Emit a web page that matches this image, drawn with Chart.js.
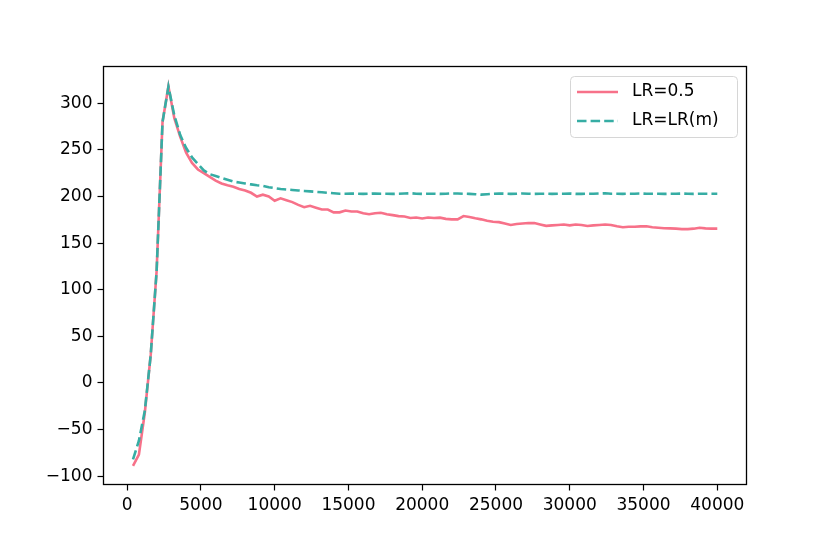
<!DOCTYPE html>
<html>
<head>
<meta charset="utf-8">
<script src="https://cdn.jsdelivr.net/npm/chart.js@4.4.0/dist/chart.umd.min.js"></script>
<style>
html, body { margin: 0; padding: 0; background: #fff; }
#wrap { width: 830px; height: 554px; }
</style>
</head>
<body>
<div id="wrap"><canvas id="lrChart" width="830" height="554"></canvas></div>
<script>
// training steps (x)
const steps = [
    400, 800, 1200, 1600, 2000, 2400, 2800, 3200, 3600, 4000,
    4400, 4800, 5200, 5600, 6000, 6400, 6800, 7200, 7600, 8000,
    8400, 8800, 9200, 9600, 10000, 10400, 10800, 11200, 11600, 12000,
    12400, 12800, 13200, 13600, 14000, 14400, 14800, 15200, 15600, 16000,
    16400, 16800, 17200, 17600, 18000, 18400, 18800, 19200, 19600, 20000,
    20400, 20800, 21200, 21600, 22000, 22400, 22800, 23200, 23600, 24000,
    24400, 24800, 25200, 25600, 26000, 26400, 26800, 27200, 27600, 28000,
    28400, 28800, 29200, 29600, 30000, 30400, 30800, 31200, 31600, 32000,
    32400, 32800, 33200, 33600, 34000, 34400, 34800, 35200, 35600, 36000,
    36400, 36800, 37200, 37600, 38000, 38400, 38800, 39200, 39600, 40000
];

// LR=0.5
const lrHalf = [
    -89, -77, -32, 30, 120, 280, 318, 284, 264, 247,
    236, 229, 225, 221, 217, 214, 212, 210.5, 208, 206.5,
    204, 200, 202, 200, 195.5, 198, 196, 194, 191, 188.5,
    190, 188, 186, 186, 183, 183, 185, 184, 184, 182,
    181, 182, 182.5, 181, 180, 179, 178.5, 177, 177.5, 176.5,
    177.5, 177, 177.3, 176, 175.5, 175.5, 179, 178, 176.6, 175.5,
    174, 173, 172.5, 171, 169.5, 170.5, 171, 171.5, 171.5, 170,
    168.5, 169, 169.5, 170, 169, 170, 169.5, 168.3, 169, 169.5,
    170, 169.5, 168, 167, 167.5, 167.5, 168, 168, 167, 166.5,
    166, 165.8, 165.5, 165, 165, 165.5, 166.5, 165.8, 165.5, 165.5
];

// LR=LR(m)
const lrM = [
    -82, -62, -30, 30, 120, 280, 318, 287, 266, 252,
    242, 235, 228, 224, 222, 220, 218, 216, 215, 214,
    213, 212, 211.5, 210, 209, 208, 207.5, 207, 206.5, 206,
    205.5, 205, 204.5, 204, 203.5, 203, 203, 203.2, 203, 202.8,
    203, 203.3, 203, 203, 202.8, 203, 203.2, 203.5, 203, 202.8,
    203, 203, 202.8, 203, 203.3, 203.3, 203, 202.8, 202.5, 202,
    202.5, 203, 203.2, 203, 202.8, 203, 203.3, 203, 202.8, 203,
    203, 202.8, 203, 203, 203.2, 202.8, 202.8, 203, 203, 203.3,
    203.5, 203, 203, 202.8, 203, 203, 203.2, 203, 203, 203,
    202.8, 203, 203, 203.2, 203, 202.8, 203, 203, 203, 203
];

const xTicks = [0, 5000, 10000, 15000, 20000, 25000, 30000, 35000, 40000];
const yTicks = [-100, -50, 0, 50, 100, 150, 200, 250, 300];

const redColor = '#f77189';
const tealColor = '#36ada4';
const tickFont = { family: 'DejaVu Sans', size: 17 };

function toPoints(xs, ys) {
    return xs.map((x, i) => ({ x: x, y: ys[i] }));
}

// frame round the plot + matplotlib-like legend box
const framePlugin = {
    id: 'frame',
    afterDraw(chart) {
        const ctx = chart.ctx;
        const a = chart.chartArea;
        ctx.save();
        ctx.strokeStyle = '#000';
        ctx.lineWidth = 1.3;
        ctx.strokeRect(a.left, a.top, a.right - a.left, a.bottom - a.top);

        // legend
        const bx = 570.5, by = 76.5, bw = 167, bh = 61;
        ctx.beginPath();
        ctx.roundRect(bx, by, bw, bh, 4);
        ctx.fillStyle = 'rgba(255,255,255,0.8)';
        ctx.fill();
        ctx.strokeStyle = '#d6d6d6';
        ctx.lineWidth = 1;
        ctx.stroke();

        ctx.lineWidth = 2.6;
        ctx.strokeStyle = redColor;
        ctx.beginPath();
        ctx.moveTo(577, 92);
        ctx.lineTo(618, 92);
        ctx.stroke();

        ctx.strokeStyle = tealColor;
        ctx.setLineDash([9.5, 4.1]);
        ctx.beginPath();
        ctx.moveTo(577, 121);
        ctx.lineTo(618, 121);
        ctx.stroke();
        ctx.setLineDash([]);

        ctx.fillStyle = '#000';
        ctx.font = '17px "DejaVu Sans"';
        ctx.textBaseline = 'middle';
        ctx.fillText('LR=0.5', 632, 92);
        ctx.fillText('LR=LR(m)', 632, 121);
        ctx.restore();
    }
};

const chart = new Chart(document.getElementById('lrChart'), {
    type: 'line',
    data: {
        datasets: [
            {
                label: 'LR=0.5',
                data: toPoints(steps, lrHalf),
                borderColor: redColor,
                borderWidth: 2.6,
                pointRadius: 0,
                tension: 0,
                fill: false,
                order: 2
            },
            {
                label: 'LR=LR(m)',
                data: toPoints(steps, lrM),
                borderColor: tealColor,
                borderWidth: 2.6,
                borderDash: [9.5, 4.1],
                pointRadius: 0,
                tension: 0,
                fill: false,
                order: 1
            }
        ]
    },
    options: {
        responsive: false,
        animation: false,
        devicePixelRatio: 1,
        layout: { padding: { left: 0, top: 66.5, right: 83.5, bottom: 0 } },
        plugins: {
            legend: { display: false },
            tooltip: { enabled: false }
        },
        scales: {
            x: {
                type: 'linear',
                min: -1600,
                max: 41980,
                afterBuildTicks: scale => { scale.ticks = xTicks.map(v => ({ value: v })); },
                afterFit: scale => { scale.height = 69.5; },
                grid: { display: true, drawOnChartArea: false, tickLength: 6, tickColor: '#000', tickWidth: 1.2 },
                border: { display: false },
                ticks: {
                    color: '#000',
                    font: tickFont,
                    padding: 5,
                    maxRotation: 0,
                    autoSkip: false,
                    callback: v => String(v)
                }
            },
            y: {
                type: 'linear',
                min: -109,
                max: 339.5,
                afterBuildTicks: scale => { scale.ticks = yTicks.map(v => ({ value: v })); },
                afterFit: scale => { scale.width = 103.5; },
                grid: { display: true, drawOnChartArea: false, tickLength: 6, tickColor: '#000', tickWidth: 1.2 },
                border: { display: false },
                ticks: {
                    color: '#000',
                    font: tickFont,
                    padding: 5,
                    autoSkip: false,
                    callback: v => (v < 0 ? '\u2212' + Math.abs(v) : String(v))
                }
            }
        }
    },
    plugins: [framePlugin]
});
</script>
</body>
</html>
